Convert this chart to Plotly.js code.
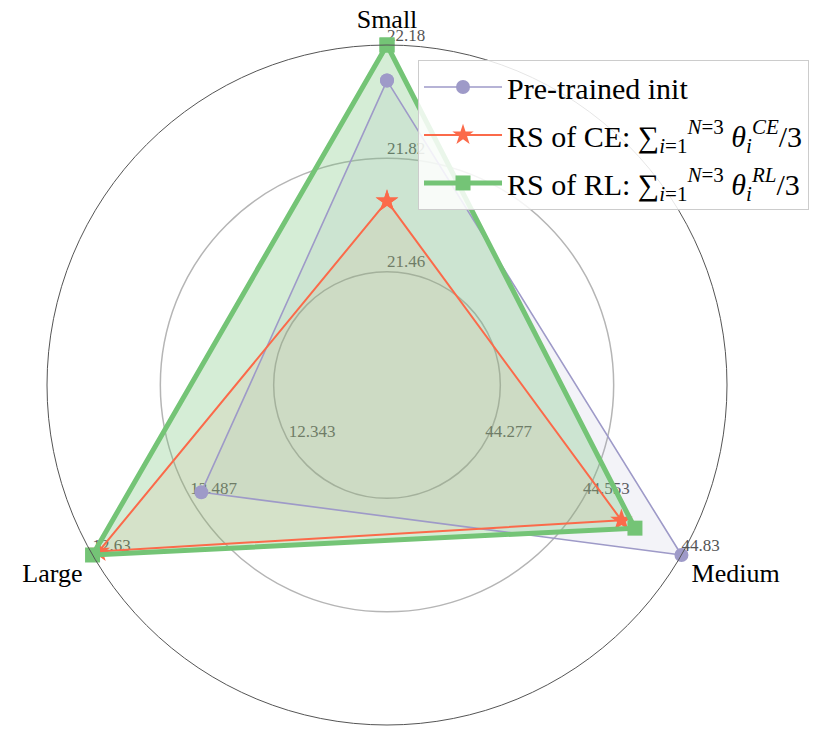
<!DOCTYPE html>
<html>
<head>
<meta charset="utf-8">
<script src="https://cdn.plot.ly/plotly-3.0.1.min.js"></script>
<style>html,body{margin:0;padding:0;background:#fff;}#chart{width:831px;height:749px;}</style>
</head>
<body>
<div id="chart"></div>
<script>
// Axes (categories) and their angles on the radar
const categories = ["Small", "Medium", "Large"];
const angles = [90, 330, 210];

// Per-axis tick values (each axis has its own scale)
const ticksSmall = [21.46, 21.82, 22.18];
const ticksMedium = [44.277, 44.553, 44.83];
const ticksLarge = [12.343, 12.487, 12.63];
const tickLabelsSmall = ["21.46", "21.82", "22.18"];
const tickLabelsMedium = ["44.277", "44.553", "44.83"];
const tickLabelsLarge = ["12.343", "12.487", "12.63"];

// Series values: [Small, Medium, Large]
const pretrained = [22.067, 44.83, 12.471];
const rsCE = [21.684, 44.661, 12.621];
const rsRL = [22.18, 44.699, 12.63];

const seriesNames = [
  "Pre-trained init",
  "RS of CE: \u2211<sub><i>i</i>=1</sub><sup><i>N</i>=3</sup> <i>\u03b8<sub>i</sub><sup>CE</sup></i>/3",
  "RS of RL: \u2211<sub><i>i</i>=1</sub><sup><i>N</i>=3</sup> <i>\u03b8<sub>i</sub><sup>RL</sup></i>/3"
];
const seriesColors = ["#9e9ac8", "#fb6a4a", "#74c476"];
const fillColors = ["rgba(158,154,200,0.12)", "rgba(251,106,74,0.1)", "rgba(116,196,118,0.3)"];
const seriesSymbols = ["circle", "star", "square"];

const tickSets = [ticksSmall, ticksMedium, ticksLarge];
const tickLabelSets = [tickLabelsSmall, tickLabelsMedium, tickLabelsLarge];

// Map a value on axis k to the shared radial scale: ticks sit at 1/3, 2/3, 1
function norm(v, k) {
  const t = tickSets[k];
  return 1/3 + (v - t[0]) / ((t[2] - t[0]) * 1.5);
}
function toR(vals) {
  const r = vals.map((v, k) => norm(v, k));
  r.push(r[0]);
  return r;
}
const thetaClosed = angles.concat([angles[0]]);

// tick label trace
const tR = [], tT = [], tTxt = [];
for (let k = 0; k < 3; k++) {
  for (let j = 0; j < 3; j++) {
    tR.push(norm(tickSets[k][j], k));
    tT.push(angles[k]);
    tTxt.push(tickLabelSets[k][j]);
  }
}

const FONT = "Liberation Serif, DejaVu Serif, serif";
const allSeries = [pretrained, rsCE, rsRL];

const traces = [
  {
    type: "scatterpolar", mode: "text", r: tR, theta: tT, text: tTxt,
    textposition: "top right", showlegend: false, hoverinfo: "skip",
    textfont: {family: FONT, size: 17, color: "#555555"}
  }
];
// fills first (below all lines)
allSeries.forEach((s, i) => {
  traces.push({
    type: "scatterpolar", mode: "none", r: toR(s), theta: thetaClosed,
    fill: "toself", fillcolor: fillColors[i], showlegend: false, hoverinfo: "skip"
  });
});
const widths = [1.6, 2, 5];
const sizes = [14, 17, 15];
allSeries.forEach((s, i) => {
  traces.push({
    type: "scatterpolar", mode: "lines+markers", name: seriesNames[i],
    r: toR(s), theta: thetaClosed,
    line: {color: seriesColors[i], width: widths[i]},
    marker: {symbol: seriesSymbols[i], size: sizes[i], color: seriesColors[i], line: {width: 0}},
    legendgroup: "g" + i
  });
});

const layout = {
  width: 831, height: 749,
  margin: {l: 47, r: 104, t: 45, b: 24, pad: 0},
  paper_bgcolor: "#ffffff",
  font: {family: FONT, color: "#000"},
  showlegend: true,
  legend: {
    x: 0.5456, y: 0.978, xanchor: "left", yanchor: "top",
    bgcolor: "rgba(255,255,255,0.85)", bordercolor: "#cccccc", borderwidth: 1,
    font: {family: FONT, size: 30, color: "#000"},
    traceorder: "grouped", tracegroupgap: 6, itemwidth: 78
  },
  polar: {
    domain: {x: [0, 1], y: [0, 1]},
    bgcolor: "rgba(0,0,0,0)",
    radialaxis: {
      range: [0, 1], tickvals: [1/3, 2/3, 1], showticklabels: false,
      ticks: "", showline: false, gridcolor: "#b5b5b5", gridwidth: 1.5
    },
    angularaxis: {
      direction: "counterclockwise", rotation: 0,
      tickmode: "array", tickvals: angles, ticktext: categories,
      showgrid: false, ticks: "outside", ticklen: 6, tickcolor: "rgba(0,0,0,0)",
      linecolor: "#555555", linewidth: 1,
      tickfont: {family: FONT, size: 26, color: "#000"}
    }
  }
};

Plotly.newPlot("chart", traces, layout, {displayModeBar: false, staticPlot: true});
</script>
</body>
</html>
